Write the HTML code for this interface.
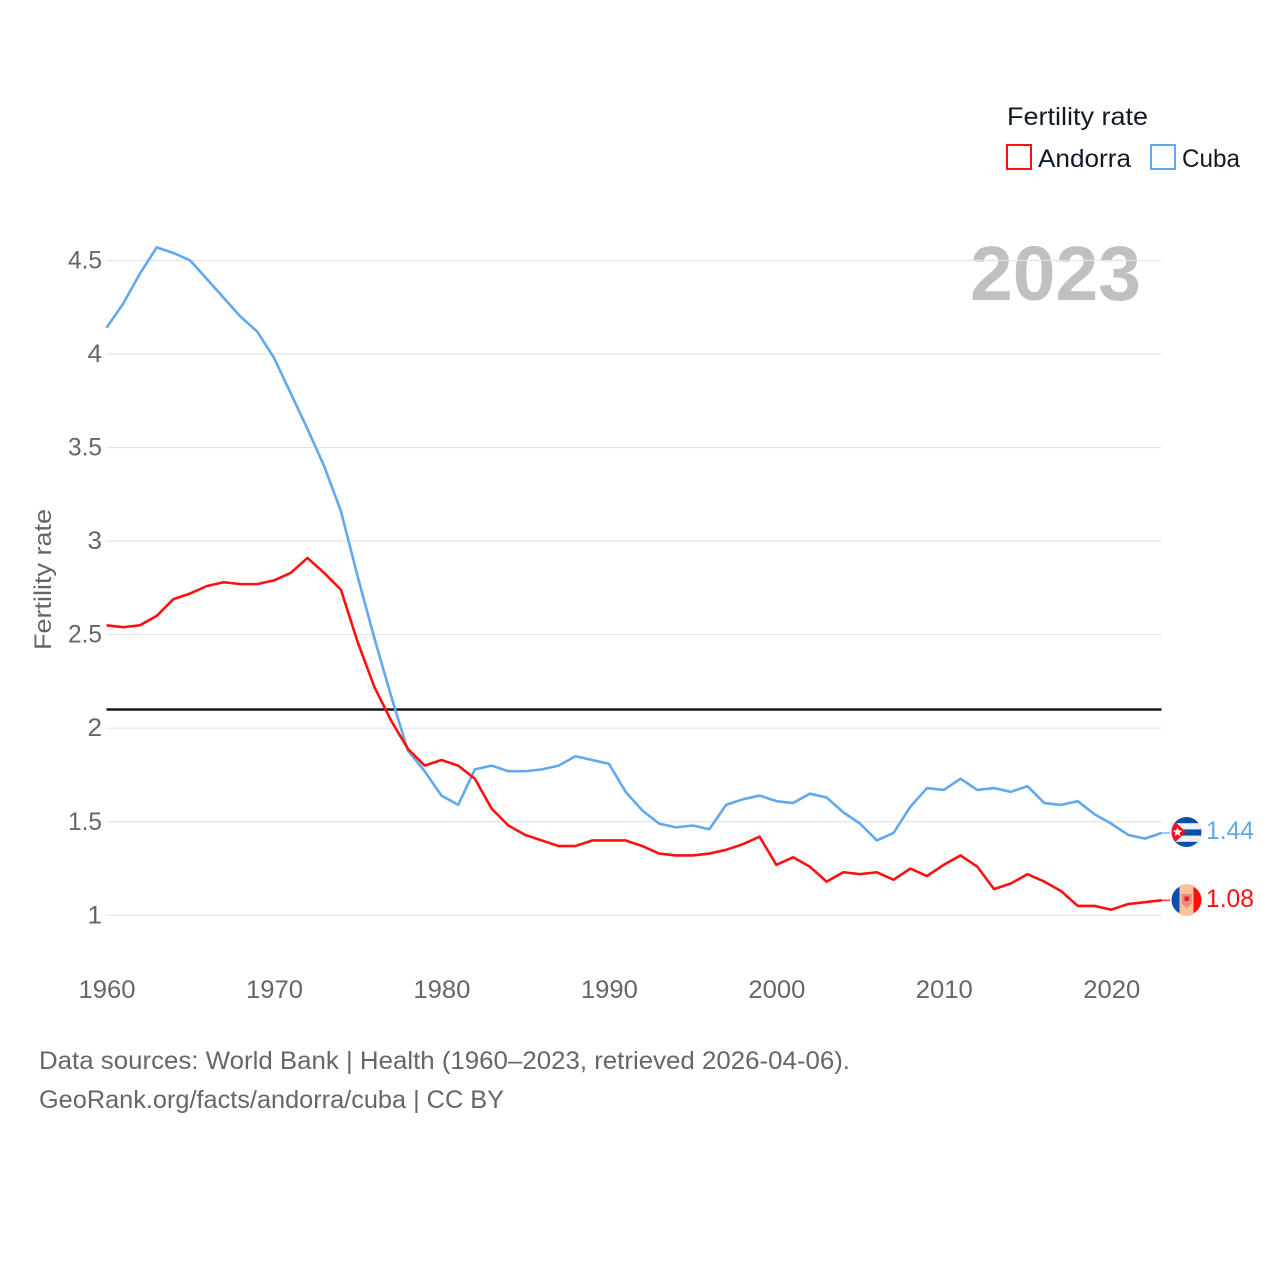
<!DOCTYPE html>
<html lang="en">
<head>
<meta charset="utf-8">
<title>Fertility rate: Andorra and Cuba</title>
<style>
html,body{margin:0;padding:0;background:#fff;width:1280px;height:1280px;overflow:hidden}
svg{display:block}
text{font-family:"Liberation Sans",sans-serif}
</style>
</head>
<body>
<svg id="chart" xmlns="http://www.w3.org/2000/svg" width="1280" height="1280" viewBox="0 0 1280 1280">
  <defs>
    <clipPath id="clip-cuba"><circle cx="1186.5" cy="832" r="15"/></clipPath>
    <clipPath id="clip-andorra"><circle cx="1186.5" cy="900" r="15"/></clipPath>
    <clipPath id="clip-andorra-center"><circle cx="1186.5" cy="900" r="16"/></clipPath>
  </defs>

  <text x="970" y="300" font-size="77" font-weight="700" fill="#c0c0c0" textLength="171" lengthAdjust="spacingAndGlyphs">2023</text>

  <g id="grid"></g>
  <g id="y-ticks"></g>
  <g id="x-ticks"></g>

  <text transform="translate(51,650) rotate(-90)" font-size="24.5" fill="#666" textLength="141" lengthAdjust="spacingAndGlyphs">Fertility rate</text>

  <line id="reference-line" x1="106.500" x2="1161.500" stroke="#14181c" stroke-width="2.600"/>

  <g id="series"></g>

  <g clip-path="url(#clip-cuba)">
    <rect x="1171" y="817" width="31" height="31" fill="#0a4fb0"/>
    <rect x="1171" y="823.200" width="31" height="6.200" fill="#f1f1f1"/>
    <rect x="1171" y="835.600" width="31" height="6.200" fill="#f1f1f1"/>
    <path d="M1171 818 L1186 832 L1171 846 Z" fill="#f01020"/>
    <path d="M1177.500 827 l1.300 3.400 3.600 .1 -2.900 2.200 1 3.500 -3 -2 -3 2 1 -3.500 -2.900 -2.200 3.600 -.1 z" fill="#fff"/>
  </g>
  <text x="1206" y="839" font-size="25" fill="#62a8ec" textLength="48" lengthAdjust="spacingAndGlyphs">1.44</text>

  <g>
    <g clip-path="url(#clip-andorra)">
      <rect x="1171" y="885" width="9" height="31" fill="#0a4fb0"/>
      <rect x="1193" y="885" width="10" height="31" fill="#ff1010"/>
    </g>
    <rect x="1179.500" y="884" width="14" height="32" fill="#f9c39a" clip-path="url(#clip-andorra-center)"/>
    <path d="M1181.500 894 h10.500 v7 q0 3.500 -5.250 7 q-5.250 -3.500 -5.250 -7 z" fill="#f08a7c"/>
    <rect x="1184.500" y="896.500" width="4.500" height="4.500" fill="#d82828"/>
  </g>
  <text x="1206" y="907" font-size="25" fill="#ff1010" textLength="48" lengthAdjust="spacingAndGlyphs">1.08</text>

  <g>
    <text x="1007" y="125" font-size="25" fill="#111a24" textLength="141" lengthAdjust="spacingAndGlyphs">Fertility rate</text>
    <g>
      <rect x="1007" y="145" width="24" height="24" fill="#fff" stroke="#ff1010" stroke-width="2"/>
      <text x="1038" y="167" font-size="25" fill="#111a24" textLength="93" lengthAdjust="spacingAndGlyphs">Andorra</text>
    </g>
    <g>
      <rect x="1151" y="145" width="24" height="24" fill="#fff" stroke="#62a8ec" stroke-width="2"/>
      <text x="1182" y="167" font-size="25" fill="#111a24" textLength="58" lengthAdjust="spacingAndGlyphs">Cuba</text>
    </g>
  </g>

  <text x="39" y="1069" font-size="25" fill="#666" textLength="811" lengthAdjust="spacingAndGlyphs">Data sources: World Bank | Health (1960–2023, retrieved 2026-04-06).</text>
  <text x="39" y="1108" font-size="25" fill="#666" textLength="465" lengthAdjust="spacingAndGlyphs">GeoRank.org/facts/andorra/cuba | CC BY</text>
</svg>

<script>
const startYear = 1960;
const yTickValues = [1, 1.5, 2, 2.5, 3, 3.5, 4, 4.5];
const xTickYears = [1960, 1970, 1980, 1990, 2000, 2010, 2020];
const referenceValue = 2.1;
const cubaValues = [4.14,4.27,4.43,4.57,4.54,4.50,4.40,4.30,4.20,4.12,3.98,3.79,3.60,3.40,3.16,2.81,2.48,2.17,1.88,1.77,1.64,1.59,1.78,1.80,1.77,1.77,1.78,1.80,1.85,1.83,1.81,1.66,1.56,1.49,1.47,1.48,1.46,1.59,1.62,1.64,1.61,1.60,1.65,1.63,1.55,1.49,1.40,1.44,1.58,1.68,1.67,1.73,1.67,1.68,1.66,1.69,1.60,1.59,1.61,1.54,1.49,1.43,1.41,1.44];
const andorraValues = [2.55,2.54,2.55,2.60,2.69,2.72,2.76,2.78,2.77,2.77,2.79,2.83,2.91,2.83,2.74,2.46,2.22,2.04,1.89,1.80,1.83,1.80,1.73,1.57,1.48,1.43,1.40,1.37,1.37,1.40,1.40,1.40,1.37,1.33,1.32,1.32,1.33,1.35,1.38,1.42,1.27,1.31,1.26,1.18,1.23,1.22,1.23,1.19,1.25,1.21,1.27,1.32,1.26,1.14,1.17,1.22,1.18,1.13,1.05,1.05,1.03,1.06,1.07,1.08];

const NS = 'http://www.w3.org/2000/svg';
const plotLeft = 106.5, plotRight = 1161.5;
const xScale = function (year) { return plotLeft + (year - startYear) * (plotRight - plotLeft) / 63; };
const yScale = function (value) { return 915.3 - (value - 1) * 187.1; };

const gridGroup = document.getElementById('grid');
const yTickGroup = document.getElementById('y-ticks');
const xTickGroup = document.getElementById('x-ticks');
const seriesGroup = document.getElementById('series');

yTickValues.forEach(function (v) {
  const line = document.createElementNS(NS, 'line');
  
  
  line.setAttribute('x1', plotLeft);
  line.setAttribute('x2', plotRight);
  line.setAttribute('y1', yScale(v));
  line.setAttribute('y2', yScale(v));
  line.setAttribute('stroke', '#e4e4e4');
  line.setAttribute('stroke-width', '1.2');
  gridGroup.appendChild(line);

  const label = document.createElementNS(NS, 'text');
  
  
  const str = String(v);
  label.setAttribute('x', 102);
  label.setAttribute('y', yScale(v) + 8);
  label.setAttribute('text-anchor', 'end');
  label.setAttribute('font-size', '25');
  label.setAttribute('fill', '#666');
  label.setAttribute('textLength', str.length > 1 ? 34 : 14.5);
  label.setAttribute('lengthAdjust', 'spacingAndGlyphs');
  label.textContent = str;
  yTickGroup.appendChild(label);
});

xTickYears.forEach(function (year) {
  const label = document.createElementNS(NS, 'text');
  
  
  label.setAttribute('x', xScale(year) + 0.5);
  label.setAttribute('y', 998);
  label.setAttribute('text-anchor', 'middle');
  label.setAttribute('font-size', '25');
  label.setAttribute('fill', '#666');
  label.setAttribute('textLength', 57);
  label.setAttribute('lengthAdjust', 'spacingAndGlyphs');
  label.textContent = String(year);
  xTickGroup.appendChild(label);
});

const refLine = document.getElementById('reference-line');
refLine.setAttribute('y1', yScale(referenceValue));
refLine.setAttribute('y2', yScale(referenceValue));

function drawSeries(values, color, name) {
  const pts = values.map(function (v, i) {
    return xScale(startYear + i).toFixed(2) + ',' + yScale(v).toFixed(2);
  }).join(' ');
  const path = document.createElementNS(NS, 'polyline');
  
  
  path.setAttribute('points', pts);
  path.setAttribute('fill', 'none');
  path.setAttribute('stroke', color);
  path.setAttribute('stroke-width', '2.6');
  path.setAttribute('stroke-linejoin', 'round');
  seriesGroup.appendChild(path);

  const lastY = yScale(values[values.length - 1]);
  const tail = document.createElementNS(NS, 'line');
  
  
  tail.setAttribute('x1', plotRight);
  tail.setAttribute('x2', 1170);
  tail.setAttribute('y1', lastY);
  tail.setAttribute('y2', lastY);
  tail.setAttribute('stroke', color);
  tail.setAttribute('stroke-width', '1.6');
  tail.setAttribute('opacity', '0.8');
  seriesGroup.appendChild(tail);
}

drawSeries(cubaValues, '#62a8ec', 'cuba-line');
drawSeries(andorraValues, '#ff1010', 'andorra-line');
</script>
</body>
</html>
